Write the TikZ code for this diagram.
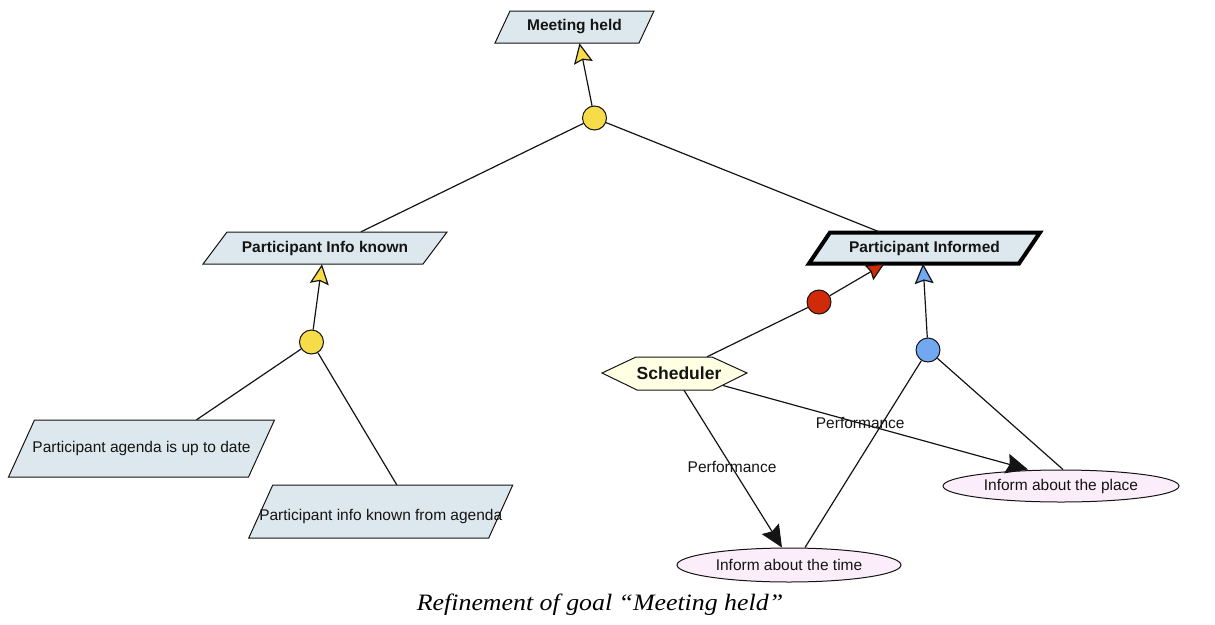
\documentclass[tikz,border=0pt]{standalone}
\usepackage{fontspec}
\setmainfont{Liberation Serif}
\newfontfamily\diagfont{Liberation Sans}
\usetikzlibrary{arrows.meta,shapes.geometric}

\definecolor{goalfill}{HTML}{DDE8EE}
\definecolor{agentfill}{HTML}{FFFFE4}
\definecolor{opfill}{HTML}{FBEEFA}
\definecolor{andyellow}{HTML}{F7DC4A}
\definecolor{andred}{HTML}{D02A0A}
\definecolor{andblue}{HTML}{72A8F0}
\definecolor{ink}{HTML}{141414}

\tikzset{
  goalshape/.style={draw=ink, line width=1pt, fill=goalfill},
  keygoalshape/.style={draw=black, line width=4pt, fill=goalfill, line join=miter},
  plaintext/.style={inner sep=0pt, text=ink, font=\diagfont\fontsize{15.5}{18}\selectfont},
  boldtext/.style={inner sep=0pt, text=ink, font=\diagfont\bfseries\fontsize{15.5}{18}\selectfont},
  refnode/.style={circle, draw=ink, line width=1pt, minimum size=24pt, inner sep=0pt},
  opnode/.style={ellipse, draw=ink, line width=1pt, fill=opfill, inner sep=0pt,
    text=ink, font=\diagfont\fontsize{15.5}{18}\selectfont},
  link/.style={draw=ink, line width=1.2pt},
  yellowtip/.style={-{Stealth[length=20pt, width=19pt, inset=3pt, fill=andyellow]}},
  redtip/.style={-{Stealth[length=18pt, width=17pt, inset=2pt, fill=andred]}},
  bluetip/.style={-{Stealth[length=20pt, width=19pt, inset=3pt, fill=andblue]}},
  perftip/.style={-{Stealth[length=22pt, width=20pt, inset=3pt]}},
  perflabel/.style={inner sep=0pt, text=ink, font=\diagfont\fontsize{15.5}{18}\selectfont},
}

% goal parallelogram: name, centre x, centre y, half length of a side,
% half height, slant, outline style, text style, text
\newcommand\goalbox[9]{%
  \draw[#7] ({#2-#4+#6/2},{#3-#5}) -- ({#2+#4+#6/2},{#3-#5})
    -- ({#2+#4-#6/2},{#3+#5}) -- ({#2-#4-#6/2},{#3+#5}) -- cycle;
  \node[#8, minimum width={2*#4}, minimum height={2*#5}] (#1) at (#2,#3) {#9};
}

\begin{document}
\begin{tikzpicture}[x=1pt,y=-1pt]
\useasboundingbox (0,0) rectangle (1215,624);

% goals
\goalbox{mh}{574.5}{27}{72}{16}{15}{goalshape}{boldtext}{Meeting held}
\goalbox{pik}{325}{248}{110}{16}{24}{goalshape}{boldtext}{Participant Info known}
\goalbox{pinf}{924.5}{248}{105}{15.5}{21}{keygoalshape}{boldtext}{Participant Informed}
\goalbox{agd}{141.5}{448.5}{120}{28.5}{26}{goalshape}{plaintext}{Participant agenda is up to date}
\goalbox{fag}{380.75}{511.5}{120}{26.5}{24}{goalshape}{plaintext}{\raisebox{-9pt}[0pt][0pt]{Participant info known from agenda}}

% agent
\draw[goalshape, fill=agentfill] (602,373) -- (636,357) -- (712,357) -- (747,373)
  -- (713,390) -- (637,390) -- cycle;
\node[boldtext, font=\diagfont\bfseries\fontsize{17.5}{20}\selectfont,
  minimum width=145pt, minimum height=33pt] (sched) at (679,373.5) {Scheduler};

% operations
\node[opnode, minimum width=224pt, minimum height=34pt] (time) at (789,565) {Inform about the time};
\node[opnode, minimum width=236pt, minimum height=32pt] (place) at (1061,486) {Inform about the place};

% refinement points
\node[refnode, fill=andyellow] (c1) at (594.5,118) {};
\node[refnode, fill=andyellow] (c2) at (311.5,342) {};
\node[refnode, fill=andred] (rc) at (819,302) {};
\node[refnode, fill=andblue] (bc) at (928,350) {};

% refinement of the top goal
\draw[link, yellowtip] (c1) -- ([xshift=5]mh.south);
\draw[link] (c1) -- ([xshift=36]pik.north);
\draw[link] (c1) -- ([xshift=-44]pinf.north);

% refinement of participant info known
\draw[link, yellowtip] (c2) -- ([xshift=-3]pik.south);
\draw[link] (c2) -- ([xshift=55]agd.north);
\draw[link] (c2) -- ([xshift=16]fag.north);

% responsibility of the scheduler
\draw[link] ([xshift=28]sched.north) -- (rc);
\draw[link, redtip] (rc) -- ([xshift=-40]pinf.south);

% operationalisation
\draw[link, bluetip] (bc) -- ([xshift=-1.5]pinf.south);
\draw[link] (bc) -- ([xshift=16]time.north);
\draw[link] (bc) -- ([xshift=2]place.north);

% performance links
\draw[link, perftip] ([xshift=5]sched.south) -- node[perflabel, pos=0.49] {Performance} ([xshift=-7]time.north);
\draw[link, perftip] ([shift={(44,12)}]sched.center) -- node[perflabel, pos=0.45] {Performance} ([xshift=-33]place.north);

% caption
\node[inner sep=0pt, font=\fontsize{23.5}{26}\selectfont\itshape] (cap) at (600,605)
  {\scalebox{1.1}[1]{Refinement of goal “Meeting held”}};
\end{tikzpicture}
\end{document}
